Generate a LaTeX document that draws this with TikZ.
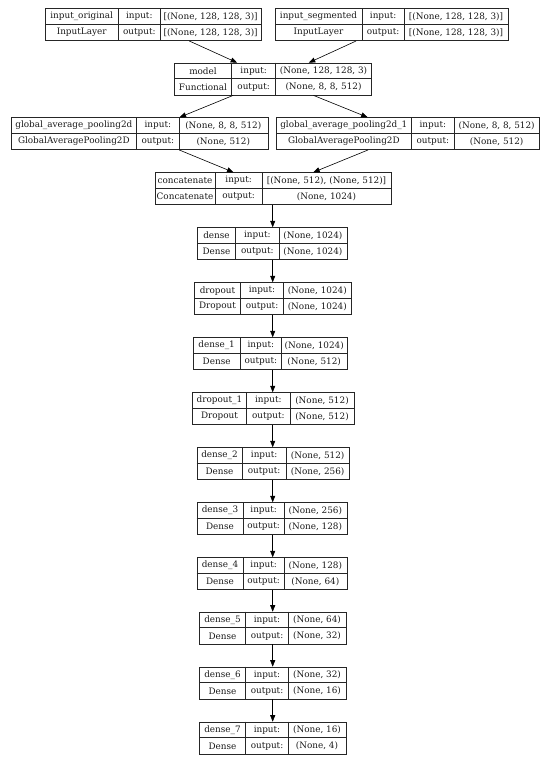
\documentclass[tikz,border=0pt]{standalone}
\usepackage{fontspec}
\setmainfont{DejaVu Serif}
\usetikzlibrary{arrows.meta}
\tikzset{
  kb/.style={draw=black!85, line width=0.7pt, rectangle, inner sep=0pt, anchor=north west},
  kline/.style={draw=black!85, line width=0.7pt},
  ktxt/.style={font=\fontsize{8.85}{10.5}\selectfont, inner sep=0pt, text=black!90},
  kedge/.style={draw=black, line width=0.6pt, -{Triangle[length=6.5pt,width=5pt]}, shorten >=0pt}
}
\newcommand\kbox[9]{%
  \node[kb, minimum width={(#5-#2)*1pt}, minimum height=32pt] (#1) at (#2,#6) {};
  \draw[kline] (#2,#6+16) -- (#5,#6+16);
  \draw[kline] (#3,#6) -- (#3,#6+32);
  \draw[kline] (#4,#6) -- (#4,#6+32);
  \node[ktxt] (#1-n) at ({(#2+#3)/2},#6+8.3) {#7};
  \node[ktxt] (#1-c) at ({(#2+#3)/2},#6+24.3) {#8};
  \node[ktxt] (#1-i) at ({(#3+#4)/2},#6+8.3) {input:};
  \node[ktxt] (#1-o) at ({(#3+#4)/2},#6+24.3) {output:};
  \node[ktxt] (#1-iv) at ({(#4+#5)/2},#6+8.3) {#9};
  \xdef\kx{#4}\xdef\ky{#5}\xdef\kt{#6}\xdef\kn{#1}%
}
\newcommand\kout[1]{\node[ktxt] (\kn-ov) at ({(\kx+\ky)/2},\kt+24.3) {#1};}
\begin{document}
\begin{tikzpicture}[x=1pt,y=-1pt]
\useasboundingbox (0,0) rectangle (550,761);
\coordinate (axis) at (272.7,0);
\kbox{io}{45}{118.3}{160.3}{261}{8.3}{input\_original}{InputLayer}{[(None, 128, 128, 3)]}\kout{[(None, 128, 128, 3)]}
\kbox{is}{275}{362}{404.3}{507.7}{8.3}{input\_segmented}{InputLayer}{[(None, 128, 128, 3)]}\kout{[(None, 128, 128, 3)]}
\kbox{model}{174.3}{231.7}{275.7}{371.3}{62.7}{model}{Functional}{(None, 128, 128, 3)}\kout{(None, 8, 8, 512)}
\kbox{gap}{11}{136.7}{179}{267.5}{117.3}{global\_average\_pooling2d}{GlobalAveragePooling2D}{(None, 8, 8, 512)}\kout{(None, 512)}
\kbox{gap1}{276}{411.7}{454}{539.3}{117.3}{global\_average\_pooling2d\_1}{GlobalAveragePooling2D}{(None, 8, 8, 512)}\kout{(None, 512)}
\kbox{cat}{155}{215}{262.3}{390.7}{172.3}{concatenate}{Concatenate}{[(None, 512), (None, 512)]}\kout{(None, 1024)}
\kbox{d0}{197.3}{235.7}{279}{346.7}{227.3}{dense}{Dense}{(None, 1024)}\kout{(None, 1024)}
\kbox{dr0}{194.3}{240.7}{283.3}{351.3}{282.3}{dropout}{Dropout}{(None, 1024)}\kout{(None, 1024)}
\kbox{d1}{193.3}{240}{281.7}{346.7}{337.3}{dense\_1}{Dense}{(None, 1024)}\kout{(None, 512)}
\kbox{dr1}{192.3}{246.7}{290}{354}{392.3}{dropout\_1}{Dropout}{(None, 512)}\kout{(None, 512)}
\kbox{d2}{196.7}{242.3}{286}{349.3}{447.3}{dense\_2}{Dense}{(None, 512)}\kout{(None, 256)}
\kbox{d3}{196.7}{243.3}{284}{346.7}{502.3}{dense\_3}{Dense}{(None, 256)}\kout{(None, 128)}
\kbox{d4}{196.7}{243.3}{284}{346.7}{557.3}{dense\_4}{Dense}{(None, 128)}\kout{(None, 64)}
\kbox{d5}{199.3}{245.7}{288.3}{345.7}{611.7}{dense\_5}{Dense}{(None, 64)}\kout{(None, 32)}
\kbox{d6}{199.3}{245.7}{288.3}{345.7}{666.7}{dense\_6}{Dense}{(None, 32)}\kout{(None, 16)}
\kbox{d7}{199.3}{245.7}{288.3}{345.7}{721.7}{dense\_7}{Dense}{(None, 16)}\kout{(None, 4)}
\draw[kedge] (io) -- (model);
\draw[kedge] (is) -- (model);
\draw[kedge] (model) -- (gap);
\draw[kedge] (model) -- (gap1);
\draw[kedge] (gap) -- (cat);
\draw[kedge] (gap1) -- (cat);
\foreach \a/\b in {cat/d0,d0/dr0,dr0/d1,d1/dr1,dr1/d2,d2/d3,d3/d4,d4/d5,d5/d6,d6/d7}
  \draw[kedge] (\a.south -| axis) -- (\b.north -| axis);
\end{tikzpicture}
\end{document}
